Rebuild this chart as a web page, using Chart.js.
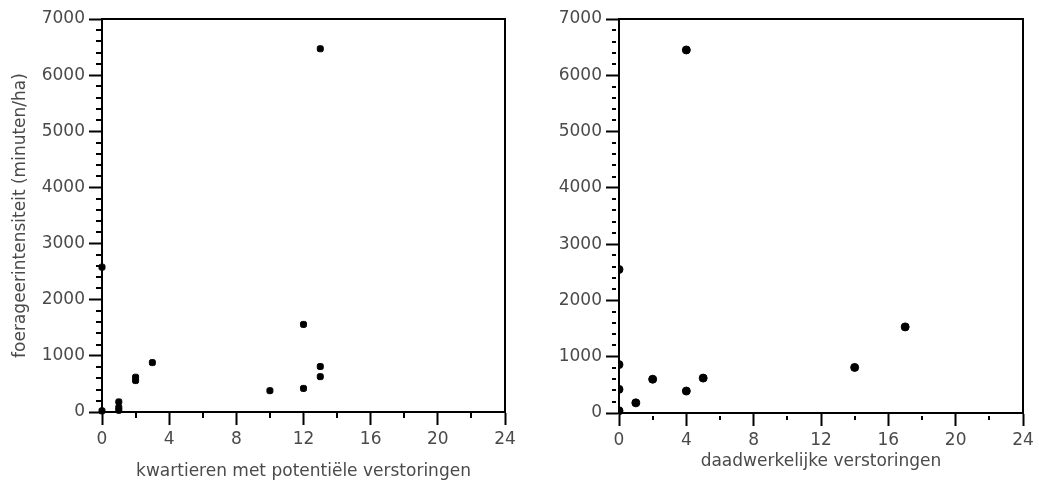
<!DOCTYPE html>
<html>
<head>
<meta charset="utf-8">
<script src="https://cdn.jsdelivr.net/npm/chart.js@4.4.1/dist/chart.umd.min.js"></script>
<style>
    html, body { margin: 0; padding: 0; background: #fff; }
    #leftBox { position: absolute; left: 0; top: 0; width: 520px; height: 484px; }
    #rightBox { position: absolute; left: 520px; top: 0; width: 519px; height: 484px; }
</style>
</head>
<body>
<div id="leftBox"><canvas id="potentialChart" width="520" height="484"></canvas></div>
<div id="rightBox"><canvas id="actualChart" width="519" height="484"></canvas></div>
<script>
// Left panel: quarters with potential disturbances vs foraging intensity
const potentialX = [0, 0, 1, 1, 1, 2, 2, 3, 10, 12, 12, 13, 13, 13];
const potentialY = [20, 2580, 180, 80, 30, 560, 620, 880, 380, 1560, 420, 6470, 810, 630];

// Right panel: actual disturbances vs foraging intensity
const actualX = [0, 0, 0, 0, 1, 2, 4, 4, 5, 14, 17];
const actualY = [40, 420, 860, 2550, 180, 600, 390, 6450, 620, 810, 1530];

// Axis ranges / tick steps
const xRange = [0, 24];
const yRange = [0, 7000];
const xMajorStep = 4, xMinorStep = 2;
const yMajorStep = 1000, yMinorStep = 200;

const leftTitleX = 'kwartieren met potentiële verstoringen';
const rightTitleX = 'daadwerkelijke verstoringen';
const titleY = 'foerageerintensiteit (minuten/ha)';

const textColor = '#4a4a4a';
const fontFamily = '"DejaVu Sans", sans-serif';

function toPoints(xs, ys) {
    return xs.map((x, i) => ({ x: x, y: ys[i] }));
}

// Frame on top/right plus short minor ticks
const framePlugin = {
    id: 'frame',
    afterDraw(chart, args, opts) {
        const { ctx, chartArea: a, scales } = chart;
        ctx.save();
        ctx.strokeStyle = '#000';
        ctx.lineWidth = 2;
        ctx.beginPath();
        ctx.moveTo(a.left, a.top);
        ctx.lineTo(a.right, a.top);
        ctx.lineTo(a.right, a.bottom);
        ctx.stroke();

        const gap = opts.gap || 0;
        const len = opts.len || 5;
        ctx.beginPath();
        for (let v = yRange[0]; v <= yRange[1]; v += yMinorStep) {
            if (v % yMajorStep === 0) continue;
            const py = Math.round(scales.y.getPixelForValue(v));
            ctx.moveTo(a.left - gap, py);
            ctx.lineTo(a.left - gap - len, py);
        }
        for (let v = xRange[0]; v <= xRange[1]; v += xMinorStep) {
            if (v % xMajorStep === 0) continue;
            const px = Math.round(scales.x.getPixelForValue(v));
            ctx.moveTo(px, a.bottom + gap);
            ctx.lineTo(px, a.bottom + gap + len);
        }
        ctx.stroke();
        ctx.restore();
    }
};

function makeOptions(cfg) {
    const tickFont = { family: fontFamily, size: 17 };
    return {
        responsive: false,
        animation: false,
        layout: { padding: { left: 0, right: cfg.padRight, top: 19, bottom: 0 } },
        plugins: {
            legend: { display: false },
            tooltip: { enabled: false },
            frame: { gap: cfg.minorGap, len: cfg.minorLen }
        },
        scales: {
            x: {
                type: 'linear',
                min: xRange[0], max: xRange[1],
                afterFit: s => { s.height = cfg.xHeight; },
                border: { display: true, color: '#000', width: 2 },
                grid: { drawOnChartArea: false, drawTicks: true, tickLength: 13, tickColor: '#000', tickWidth: 2 },
                ticks: { stepSize: xMajorStep, color: textColor, padding: 4, font: tickFont },
                title: {
                    display: true, text: cfg.xTitle, color: textColor,
                    padding: { top: 0, bottom: cfg.xTitlePad },
                    font: { family: fontFamily, size: 17 }
                }
            },
            y: {
                type: 'linear',
                min: yRange[0], max: yRange[1],
                afterFit: s => { s.width = cfg.yWidth; },
                border: { display: true, color: '#000', width: 2 },
                grid: { drawOnChartArea: false, drawTicks: true, tickLength: 13, tickColor: '#000', tickWidth: 2 },
                ticks: {
                    stepSize: yMajorStep, color: textColor, padding: 4, font: tickFont,
                    callback: v => String(v)
                },
                title: {
                    display: cfg.yTitle !== null, text: cfg.yTitle || '', color: textColor,
                    padding: { top: 10, bottom: 0 },
                    font: { family: fontFamily, size: 17 }
                }
            }
        }
    };
}

new Chart(document.getElementById('potentialChart'), {
    type: 'scatter',
    data: {
        datasets: [{
            data: toPoints(potentialX, potentialY),
            backgroundColor: '#000',
            borderColor: '#000',
            pointRadius: 3.5,
            pointStyle: 'rectRounded',
            clip: false
        }]
    },
    options: makeOptions({
        padRight: 15, xHeight: 72, yWidth: 102, xTitle: leftTitleX, xTitlePad: 2,
        yTitle: titleY, minorGap: 0, minorLen: 6
    }),
    plugins: [framePlugin]
});

new Chart(document.getElementById('actualChart'), {
    type: 'scatter',
    data: {
        datasets: [{
            data: toPoints(actualX, actualY),
            backgroundColor: '#000',
            borderColor: '#000',
            pointRadius: 4,
            clip: { left: 0, top: 10, right: 10, bottom: 10 }
        }]
    },
    options: makeOptions({
        padRight: 16, xHeight: 71, yWidth: 99, xTitle: rightTitleX, xTitlePad: 12,
        yTitle: null, minorGap: 3, minorLen: 4
    }),
    plugins: [framePlugin]
});
</script>
</body>
</html>
